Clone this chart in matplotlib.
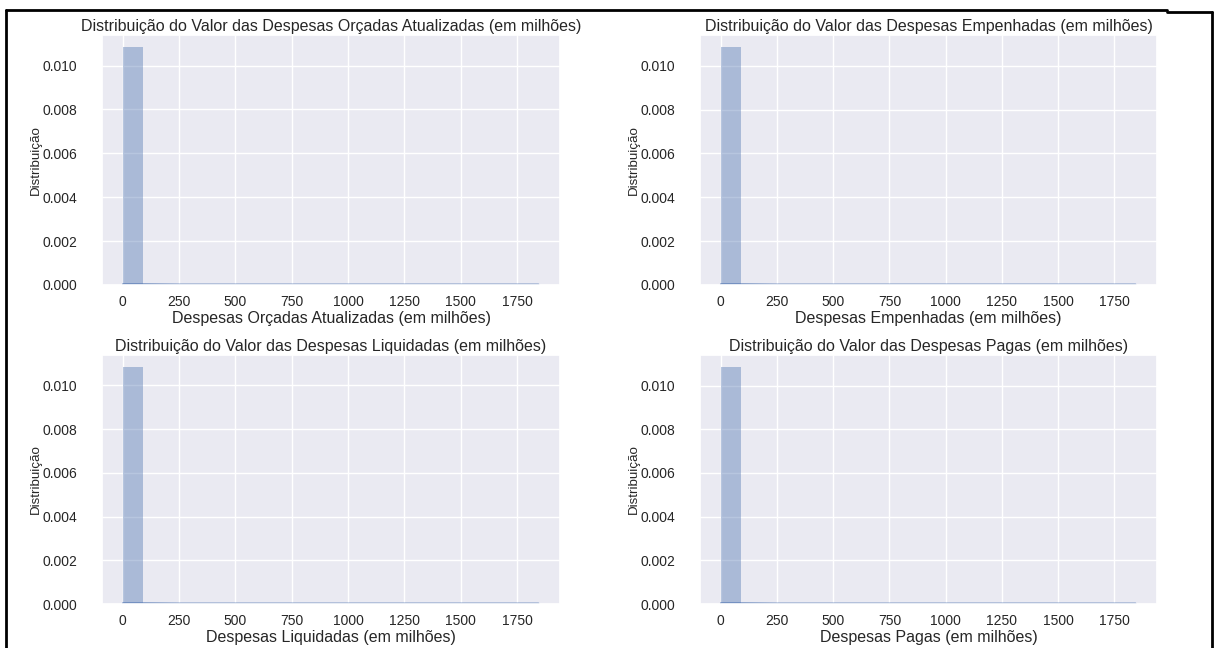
import matplotlib
matplotlib.use("Agg")
import matplotlib.pyplot as plt
import seaborn as sns
from matplotlib.lines import Line2D

sns.set_theme(style="darkgrid")
plt.rcParams['font.family'] = ['Liberation Sans', 'DejaVu Sans']

# ---- data ----
titles = [
    "Distribuição do Valor das Despesas Orçadas Atualizadas (em milhões)",
    "Distribuição do Valor das Despesas Empenhadas (em milhões)",
    "Distribuição do Valor das Despesas Liquidadas (em milhões)",
    "Distribuição do Valor das Despesas Pagas (em milhões)",
]
xlabels = [
    "Despesas Orçadas Atualizadas (em milhões)",
    "Despesas Empenhadas (em milhões)",
    "Despesas Liquidadas (em milhões)",
    "Despesas Pagas (em milhões)",
]
ylabel = "Distribuição"
bin_start = 0.0
bin_width = 88.0
densities_orcadas = [0.01085, 0.00003, 0.00001, 0.00001, 0.0, 0.0, 0.0, 0.0, 0.0, 0.0,
                     0.0, 0.0, 0.0, 0.0, 0.0, 0.0, 0.0, 0.0, 0.0, 0.0, 0.000005]
densities_empenhadas = [0.01086, 0.00003, 0.00001, 0.0, 0.0, 0.0, 0.0, 0.0, 0.0, 0.0,
                        0.0, 0.0, 0.0, 0.0, 0.0, 0.0, 0.0, 0.0, 0.0, 0.0, 0.000005]
densities_liquidadas = [0.01085, 0.00003, 0.00001, 0.0, 0.0, 0.0, 0.0, 0.0, 0.0, 0.0,
                        0.0, 0.0, 0.0, 0.0, 0.0, 0.0, 0.0, 0.0, 0.0, 0.0, 0.000005]
densities_pagas = [0.01086, 0.00003, 0.00001, 0.0, 0.0, 0.0, 0.0, 0.0, 0.0, 0.0,
                   0.0, 0.0, 0.0, 0.0, 0.0, 0.0, 0.0, 0.0, 0.0, 0.0, 0.000005]
kde_x = [0, 100, 250, 500, 750, 1000, 1250, 1500, 1750, 1845]
kde_y = [0.00003, 0.00003, 0.00002, 0.00002, 0.00002, 0.00002, 0.00002, 0.00002, 0.00002, 0.00002]
xticks = [0, 250, 500, 750, 1000, 1250, 1500, 1750]
yticks = [0.000, 0.002, 0.004, 0.006, 0.008, 0.010]

all_densities = [densities_orcadas, densities_empenhadas, densities_liquidadas, densities_pagas]

W, H = 1216, 648
fig = plt.figure(figsize=(W / 100, H / 100), dpi=100)
fig.patch.set_facecolor("white")

# axes rectangles in pixels: (left, top, width, height)
rects = [(102, 35, 458, 250), (700, 35, 457, 250),
         (102, 355, 458, 249), (700, 355, 457, 249)]

color = "#4C72B0"
for i, (l, t, w, h) in enumerate(rects):
    ax = fig.add_axes([l / W, (H - t - h) / H, w / W, h / H])
    dens = all_densities[i]
    lefts = [bin_start + k * bin_width for k in range(len(dens))]
    ax.bar(lefts, dens, width=bin_width, align="edge", color=color, alpha=0.4,
           edgecolor="none", linewidth=0)
    ax.plot(kde_x, kde_y, color=color, lw=1.3)
    ax.set_xticks(xticks)
    ax.set_yticks(yticks)
    ax.set_yticklabels([f"{v:.3f}" for v in yticks])
    ax.tick_params(axis="x", labelsize=10, colors=".15", pad=1.5)
    ax.tick_params(axis="y", labelsize=10, colors=".15", pad=12)
    ax.set_title(titles[i], fontsize=11.5, color=".15", pad=3)
    ax.set_xlabel(xlabels[i], fontsize=11.5, color=".15", labelpad=1)
    ax.set_ylabel(ylabel, fontsize=9.6, color=".15", labelpad=0)

# document frame
lw = 2
fig.add_artist(Line2D([6 / W, 1167 / W], [1 - 10 / H, 1 - 10 / H], color="black", lw=lw))
fig.add_artist(Line2D([1167 / W, 1212 / W], [1 - 12 / H, 1 - 12 / H], color="black", lw=lw))
fig.add_artist(Line2D([6 / W, 6 / W], [0, 1 - 10 / H], color="black", lw=lw))
fig.add_artist(Line2D([1212 / W, 1212 / W], [0, 1 - 12 / H], color="black", lw=lw))

fig.savefig("out.png", dpi=100, facecolor="white")
